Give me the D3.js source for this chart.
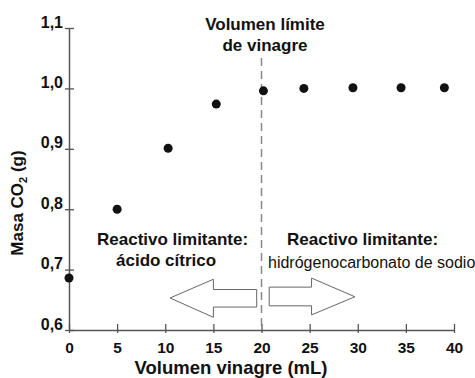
<!DOCTYPE html>
<html>
<head>
<meta charset="utf-8">
<script src="https://cdn.jsdelivr.net/npm/d3@7"></script>
<style>
  body { margin: 0; background: #fff; }
  text { font-family: "Liberation Sans", Arial, sans-serif; fill: #111; }
</style>
</head>
<body>
<div id="chart"></div>
<script>
// tamaño
var svg_w = 475;
var svg_h = 378;

// datos
var volumen = [0, 5, 10.3, 15.3, 20.2, 24.4, 29.5, 34.5, 39];
var masa = [0.686, 0.800, 0.901, 0.974, 0.996, 1.000, 1.001, 1.001, 1.001];
var x_ticks = [0, 5, 10, 15, 20, 25, 30, 35, 40];
var y_ticks = [0.6, 0.7, 0.8, 0.9, 1.0, 1.1];
var volumen_limite = 20;

// flechas en unidades de datos
var flecha_izq = [[19.5, 0.667], [15, 0.667], [15, 0.684], [10.5, 0.653], [15, 0.621], [15, 0.638], [19.5, 0.638]];
var flecha_der = [[20.8, 0.671], [25.2, 0.671], [25.2, 0.686], [29.7, 0.655], [25.2, 0.625], [25.2, 0.640], [20.8, 0.640]];

var svg = d3.select("#chart")
	.append("svg")
	.attr("width", svg_w)
	.attr("height", svg_h);

var x = d3.scaleLinear()
	.domain([0, 40])
	.range([69, 454]);

var y = d3.scaleLinear()
	.domain([0.6, 1.1])
	.range([330, 28]);

var coma = function(d) { return d3.format(".1f")(d).replace(".", ","); };

// eje y
var y_axis = svg.append("g")
	.attr("transform", "translate(" + x(0) + ",0)")
	.call(d3.axisLeft(y).tickValues(y_ticks).tickSize(0).tickFormat(coma));
y_axis.select(".domain").attr("stroke", "#555").attr("stroke-width", 1.5);
y_axis.selectAll(".tick line")
	.attr("x1", -4).attr("x2", 5)
	.attr("stroke", "#555").attr("stroke-width", 1.3);
y_axis.selectAll(".tick text")
	.attr("x", -6).attr("dy", "-1")
	.style("font-size", "16px").style("font-weight", "bold")
	.attr("fill", "#111");

// eje x
var x_axis = svg.append("g")
	.attr("transform", "translate(0," + y(0.6) + ")")
	.call(d3.axisBottom(x).tickValues(x_ticks).tickSize(0));
x_axis.select(".domain").attr("stroke", "#555").attr("stroke-width", 1.5);
x_axis.selectAll(".tick line")
	.attr("y1", -6).attr("y2", 3)
	.attr("stroke", "#555").attr("stroke-width", 1.3);
x_axis.selectAll(".tick text")
	.attr("y", 23).attr("dy", 0)
	.style("font-size", "15.5px").style("font-weight", "bold")
	.attr("fill", "#111");

// linea de volumen limite
svg.append("line")
	.attr("x1", x(volumen_limite)).attr("x2", x(volumen_limite))
	.attr("y1", 58).attr("y2", y(0.6))
	.attr("stroke", "#888")
	.attr("stroke-width", 1.5)
	.attr("stroke-dasharray", "8,5");

// flechas
var linea = d3.line()
	.x(function(d) { return x(d[0]); })
	.y(function(d) { return y(d[1]); })
	.curve(d3.curveLinearClosed);

[flecha_izq, flecha_der].forEach(function(f) {
	svg.append("path")
		.attr("d", linea(f))
		.attr("fill", "#fff")
		.attr("stroke", "#666")
		.attr("stroke-width", 1);
});

// puntos
svg.selectAll("circle")
	.data(volumen)
	.enter()
	.append("circle")
	.attr("cx", function(d) { return x(d); })
	.attr("cy", function(d, i) { return y(masa[i]); })
	.attr("r", 4.5)
	.attr("fill", "#111");

// textos
function texto(t, px, py, size, weight, anchor) {
	return svg.append("text")
		.attr("x", px).attr("y", py)
		.attr("text-anchor", anchor || "middle")
		.style("font-size", size + "px")
		.style("font-weight", weight)
		.text(t);
}

texto("Volumen límite", 265, 30, 17, "bold");
texto("de vinagre", 265, 51, 17, "bold");
texto("Reactivo limitante:", 97, 245, 17, "bold", "start");
texto("ácido cítrico", 116, 266, 17, "bold", "start");
texto("Reactivo limitante:", 287, 245, 17, "bold", "start");
texto("hidrógenocarbonato de sodio", 268, 268, 16, "normal", "start");
texto("Volumen vinagre (mL)", 231, 373.5, 18.5, "bold");

// etiqueta eje y con subindice
var ylab = svg.append("text")
	.attr("transform", "translate(23,203) rotate(-90)")
	.attr("text-anchor", "middle")
	.style("font-size", "17px")
	.style("font-weight", "bold");
ylab.append("tspan").text("Masa CO");
ylab.append("tspan").attr("dy", 4).style("font-size", "11px").text("2");
ylab.append("tspan").attr("dy", -4).text(" (g)");
</script>
</body>
</html>
